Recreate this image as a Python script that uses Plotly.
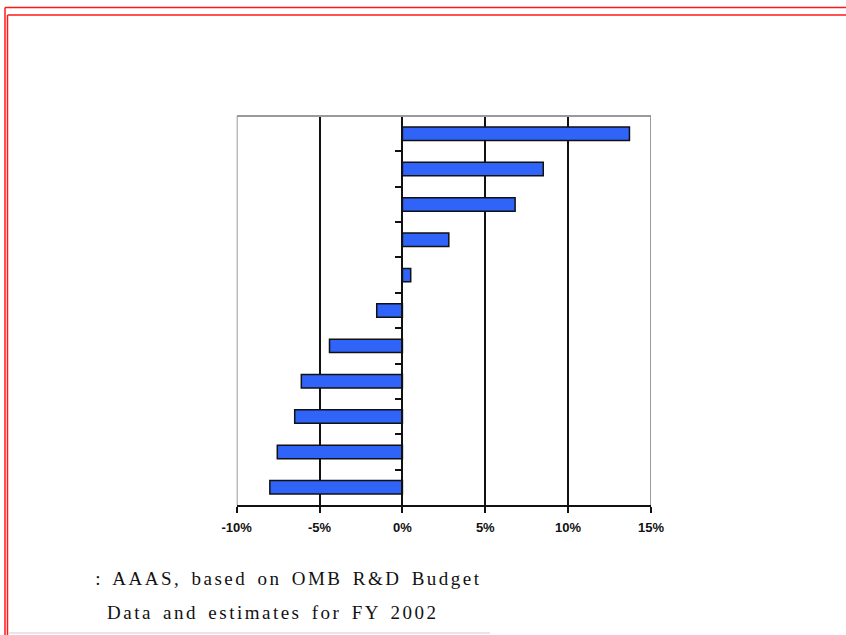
import plotly.graph_objects as go

# ---- data ----
categories = ["Agency 1", "Agency 2", "Agency 3", "Agency 4", "Agency 5", "Agency 6",
              "Agency 7", "Agency 8", "Agency 9", "Agency 10", "Agency 11"]
pct_change = [13.7, 8.5, 6.8, 2.8, 0.5, -1.55, -4.4, -6.1, -6.5, -7.55, -8.0]
x_tick_vals = [-10, -5, 0, 5, 10, 15]
x_tick_text = ["-10%", "-5%", "0%", "5%", "10%", "15%"]
source_line1 = ": AAAS, based on OMB R&D Budget"
source_line2 = "Data and estimates for FY 2002"

W, H = 846, 635


def px(x):
    return x / W


def py(y):
    return 1 - y / H


fig = go.Figure()
fig.add_trace(go.Bar(
    y=categories,
    x=pct_change,
    orientation="h",
    marker=dict(color="#3063f8", line=dict(color="#111111", width=1.5)),
    width=0.38,
    showlegend=False,
    hoverinfo="x+y",
))

x_dom = [px(236.7), px(651)]
y_dom = [py(505), py(116)]

fig.update_layout(
    width=W, height=H,
    margin=dict(l=0, r=0, t=0, b=0, pad=0, autoexpand=False),
    paper_bgcolor="white",
    plot_bgcolor="white",
    showlegend=False,
    xaxis=dict(
        domain=x_dom,
        range=[-10, 15],
        tickvals=x_tick_vals,
        ticktext=x_tick_text,
        automargin=False,
        showgrid=True, gridcolor="#111111", gridwidth=1.5,
        zeroline=False,
        showline=True, linecolor="#111111", linewidth=2,
        ticks="outside", ticklen=6, tickwidth=2, tickcolor="#111111",
        ticklabelstandoff=3,
        tickfont=dict(family="Liberation Sans, Arial, sans-serif", size=13,
                      color="#111111", weight="bold"),
        fixedrange=True,
    ),
    yaxis=dict(
        domain=y_dom,
        anchor="free",
        position=px(402.4),
        type="category",
        categoryorder="array",
        categoryarray=categories,
        range=[10.5, -0.5],
        automargin=False,
        showgrid=False,
        zeroline=False,
        showline=True, linecolor="#111111", linewidth=2,
        ticks="outside", tickson="boundaries", ticklen=6, tickwidth=2,
        tickcolor="#111111",
        showticklabels=False,
        fixedrange=True,
    ),
    font=dict(family="Liberation Serif, Times New Roman, serif", color="#111111"),
)

# gray plot-area frame (top, left, right), drawn over edge gridlines
gray = "#9a9a9a"
fig.add_shape(type="line", xref="x", yref="paper", x0=-10, x1=-10, y0=y_dom[0], y1=y_dom[1],
              line=dict(color=gray, width=2), layer="above")
fig.add_shape(type="line", xref="x", yref="paper", x0=15, x1=15, y0=y_dom[0], y1=y_dom[1],
              line=dict(color=gray, width=2), layer="above")
fig.add_shape(type="line", xref="x", yref="paper", x0=-10, x1=15, y0=y_dom[1], y1=y_dom[1],
              line=dict(color=gray, width=2), layer="above")

# double red page frame
red = "#ff1a1a"
for (lx, ty) in [(5, 7.5), (7.5, 15)]:
    fig.add_shape(type="line", xref="paper", yref="paper",
                  x0=px(lx), x1=px(lx), y0=0, y1=py(ty),
                  line=dict(color=red, width=1.5))
    fig.add_shape(type="line", xref="paper", yref="paper",
                  x0=px(lx), x1=1, y0=py(ty), y1=py(ty),
                  line=dict(color=red, width=1.5))

# faint bottom rule
fig.add_shape(type="line", xref="paper", yref="paper",
              x0=px(9), x1=px(490), y0=py(633), y1=py(633),
              line=dict(color="#e6e6e6", width=2))

# source note (centered so that extra letter spacing grows symmetrically)
fig.add_annotation(text=source_line1, xref="paper", yref="paper",
                   x=px(289), y=py(578), xanchor="center", yanchor="middle",
                   showarrow=False,
                   font=dict(family="Liberation Serif, Times New Roman, serif",
                             size=19, color="#111111"))
fig.add_annotation(text=source_line2, xref="paper", yref="paper",
                   x=px(272.5), y=py(612), xanchor="center", yanchor="middle",
                   showarrow=False,
                   font=dict(family="Liberation Serif, Times New Roman, serif",
                             size=19, color="#111111"))

post = """
var st = document.createElement('style');
st.innerHTML = 'html,body{margin:0;padding:0;overflow:hidden;} .annotation-text{letter-spacing:2.5px; word-spacing:3px;}';
document.head.appendChild(st);
"""

fig.write_html("out.html", config={"displayModeBar": False}, post_script=post)
